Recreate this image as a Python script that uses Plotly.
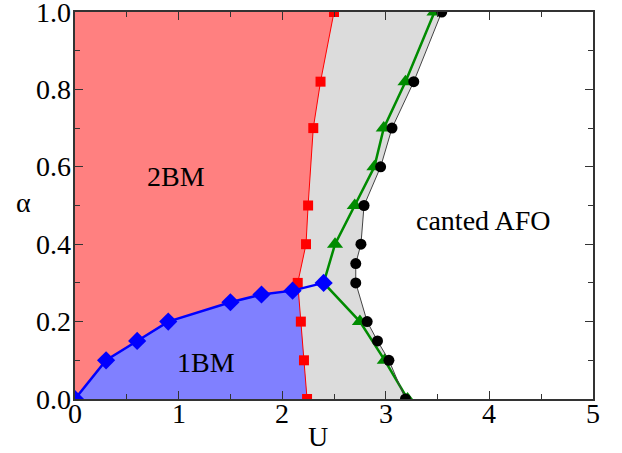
import plotly.graph_objects as go
import numpy as np

# 2BM / disordered boundary (red squares)
red_U = [2.24, 2.21, 2.18, 2.15, 2.23, 2.25, 2.30, 2.37, 2.50]
red_a = [0.00, 0.10, 0.20, 0.30, 0.40, 0.50, 0.70, 0.82, 1.00]

# 1BM / 2BM boundary (blue diamonds)
blue_U = [0.0, 0.3, 0.6, 0.9, 1.5, 1.8, 2.1, 2.4]
blue_a = [0.0, 0.10, 0.15, 0.20, 0.25, 0.27, 0.28, 0.30]

# green triangles
green_U = [3.21, 2.99, 2.75, 2.40, 2.51, 2.70, 2.89, 2.98, 3.19, 3.47]
green_a = [0.00, 0.10, 0.20, 0.30, 0.40, 0.50, 0.60, 0.70, 0.82, 1.00]

# black circles (canted AFO boundary)
black_U = [3.19, 3.03, 2.92, 2.82, 2.71, 2.71, 2.76, 2.79, 2.95, 3.06, 3.27, 3.54]
black_a = [0.00, 0.10, 0.15, 0.20, 0.30, 0.35, 0.40, 0.50, 0.60, 0.70, 0.82, 1.00]

x_ticks = [0, 1, 2, 3, 4, 5]
x_ticklabels = ["0", "1", "2", "3", "4", "5"]
y_ticks = [0.0, 0.2, 0.4, 0.6, 0.8, 1.0]
y_ticklabels = ["0.0", "0.2", "0.4", "0.6", "0.8", "1.0"]

FONT = "Liberation Serif, Times New Roman, serif"
TFONT = dict(family=FONT, size=28, color="black")

fig = go.Figure()

# shaded phase regions
fig.add_trace(go.Scatter(x=black_U, y=black_a, mode="lines", line=dict(width=0),
                         fill="tozerox", fillcolor="rgb(220,220,220)", hoverinfo="skip"))
fig.add_trace(go.Scatter(x=red_U, y=red_a, mode="lines", line=dict(width=0),
                         fill="tozerox", fillcolor="rgb(255,128,128)", hoverinfo="skip"))

# 1BM region: under blue curve, left of the red boundary
p1 = np.array([blue_U[6], blue_a[6]]); p2 = np.array([blue_U[7], blue_a[7]])
q1 = np.array([red_U[3], red_a[3]]); q2 = np.array([red_U[2], red_a[2]])
d1 = p2 - p1; d2 = q2 - q1
A = np.array([d1, -d2]).T
t, s = np.linalg.solve(A, q1 - p1)
ix, iy = p1 + t * d1
fill_x = blue_U[:7] + [ix] + red_U[2::-1]
fill_y = blue_a[:7] + [iy] + red_a[2::-1]
fig.add_trace(go.Scatter(x=fill_x, y=fill_y, mode="lines", line=dict(width=0),
                         fill="tozeroy", fillcolor="rgb(128,128,255)", hoverinfo="skip"))

# boundaries
fig.add_trace(go.Scatter(x=red_U, y=red_a, mode="lines+markers",
                         line=dict(color="red", width=1),
                         marker=dict(symbol="square", size=10, color="red")))
fig.add_trace(go.Scatter(x=green_U, y=green_a, mode="lines",
                         line=dict(color="rgb(0,139,0)", width=2.5)))
fig.add_trace(go.Scatter(x=green_U[:3] + green_U[4:], y=green_a[:3] + green_a[4:], mode="markers",
                         marker=dict(symbol="triangle-up", size=14, color="rgb(0,139,0)")))
fig.add_trace(go.Scatter(x=black_U, y=black_a, mode="lines+markers",
                         line=dict(color="#444", width=1),
                         marker=dict(symbol="circle", size=11, color="black")))
fig.add_trace(go.Scatter(x=blue_U, y=blue_a, mode="lines+markers",
                         line=dict(color="blue", width=2.5),
                         marker=dict(symbol="diamond", size=14, color="blue")))

axis_common = dict(showgrid=False, zeroline=False, showline=True, linecolor="#333",
                   linewidth=1.5, mirror="ticks", ticks="inside", ticklen=8,
                   tickcolor="#333", tickwidth=1.2, automargin=False,
                   showticklabels=False)

fig.update_layout(
    width=622, height=453, showlegend=False,
    font=dict(family=FONT, size=28, color="black"),
    margin=dict(l=75, r=29, t=12, b=54, autoexpand=False),
    plot_bgcolor="white", paper_bgcolor="white",
    xaxis=dict(range=[0, 5], tickmode="array", tickvals=x_ticks,
               minor=dict(dtick=0.5, tick0=0, ticks="inside", ticklen=5, tickcolor="#333"),
               **axis_common),
    yaxis=dict(range=[0, 1], tickmode="array", tickvals=y_ticks,
               minor=dict(dtick=0.1, tick0=0, ticks="inside", ticklen=5, tickcolor="#333"),
               **axis_common),
)

# tick labels
for v, lab in zip(x_ticks, x_ticklabels):
    fig.add_annotation(text=lab, x=v, xref="x", y=0, yref="paper", yanchor="middle",
                       yshift=-14, showarrow=False, font=TFONT)
for v, lab in zip(y_ticks, y_ticklabels):
    fig.add_annotation(text=lab, x=0, xref="paper", y=v, yref="y", xanchor="right",
                       xshift=-2, yanchor="middle", showarrow=False, font=TFONT)

# region labels
fig.add_annotation(text="2BM", x=0.976, y=0.576, showarrow=False, font=TFONT)
fig.add_annotation(text="1BM", x=1.263, y=0.094, showarrow=False, font=TFONT)
fig.add_annotation(text="canted AFO", x=3.94, y=0.462, showarrow=False, font=TFONT)

# axis titles
fig.add_annotation(text="U", xref="paper", yref="paper", x=0.4685, y=0, yanchor="middle",
                   yshift=-37.5, showarrow=False, font=TFONT)
fig.add_annotation(text="α", xref="paper", yref="paper", x=-0.1, y=0.508,
                   xanchor="center", yanchor="middle", showarrow=False, font=TFONT)

fig.write_html("out.html", config={"displayModeBar": False},
               post_script="document.body.style.margin='0';")
